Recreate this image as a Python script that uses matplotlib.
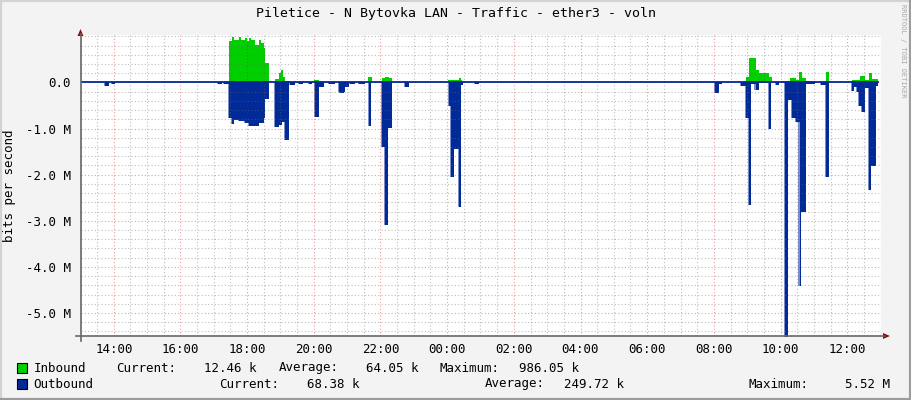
import matplotlib
matplotlib.use("Agg")
import numpy as np
import matplotlib.pyplot as plt
from matplotlib.lines import Line2D
from matplotlib.patches import Rectangle, Polygon
from matplotlib.ticker import MultipleLocator

# data (time in hours since 00:00 of the first day, values in Mbit/s, step-wise)
in_t = [13.00, 17.45, 17.55, 17.60, 17.75, 17.83, 17.93, 18.00, 18.05, 18.13,
        18.25, 18.35, 18.42, 18.50, 18.55, 18.65, 18.83, 18.95, 19.03, 19.08,
        19.15, 19.25, 20.02, 20.15, 21.63, 21.75, 22.05, 22.15, 22.25, 22.35,
        24.04, 24.35, 24.42, 24.45, 32.95, 33.05, 33.25, 33.35, 33.45, 33.65,
        33.75, 34.00, 34.30, 34.45, 34.55, 34.65, 34.75, 35.05, 35.35, 35.45,
        36.13, 36.40, 36.55, 36.65, 36.75, 36.93]
in_v = [0.0, 0.90, 0.99, 0.93, 0.99, 0.93, 0.97, 0.91, 0.97, 0.92,
        0.81, 0.93, 0.86, 0.75, 0.43, 0.0, 0.065, 0.20, 0.28, 0.12,
        0.03, 0.0, 0.05, 0.0, 0.12, 0.0, 0.09, 0.12, 0.09, 0.0,
        0.05, 0.09, 0.05, 0.0, 0.12, 0.53, 0.27, 0.20, 0.21, 0.12,
        0.0, 0.03, 0.10, 0.05, 0.22, 0.10, 0.03, 0.0, 0.22, 0.0,
        0.05, 0.13, 0.05, 0.21, 0.07, 0.0]

out_t = [13.00, 13.72, 13.86, 13.95, 14.03, 17.14, 17.26, 17.32, 17.45, 17.55,
         17.60, 17.75, 17.93, 18.05, 18.35, 18.50, 18.55, 18.65, 18.83, 18.95,
         19.05, 19.15, 19.25, 19.30, 19.45, 19.55, 19.67, 19.85, 19.95, 20.05,
         20.15, 20.30, 20.45, 20.65, 20.75, 20.80, 20.90, 20.95, 21.05, 21.10,
         21.25, 21.35, 21.55, 21.65, 21.73, 22.05, 22.15, 22.23, 22.35, 22.73,
         22.85, 24.05, 24.12, 24.20, 24.35, 24.42, 24.48, 24.85, 24.95, 32.05,
         32.15, 32.25, 32.83, 32.95, 33.05, 33.12, 33.25, 33.35, 33.65, 33.72,
         33.85, 33.97, 34.15, 34.23, 34.35, 34.45, 34.57, 34.62, 34.75, 35.05,
         35.20, 35.35, 35.45, 36.13, 36.20, 36.28, 36.37, 36.45, 36.55, 36.65,
         36.72, 36.85, 36.93]
out_v = [0.0, 0.08, 0.0, 0.04, 0.0, 0.03, 0.0, 0.03, 0.78, 0.90,
         0.81, 0.83, 0.88, 0.94, 0.88, 0.78, 0.35, 0.0, 0.96, 0.93,
         0.86, 1.24, 0.0, 0.05, 0.0, 0.03, 0.0, 0.03, 0.0, 0.75,
         0.10, 0.0, 0.03, 0.0, 0.20, 0.23, 0.20, 0.10, 0.0, 0.03,
         0.0, 0.03, 0.0, 0.94, 0.0, 1.40, 3.09, 0.98, 0.0, 0.10,
         0.0, 0.51, 2.05, 1.45, 2.70, 0.05, 0.0, 0.03, 0.0, 0.22,
         0.03, 0.0, 0.07, 0.76, 2.65, 0.03, 0.17, 0.02, 1.00, 0.0,
         0.05, 0.0, 5.52, 0.37, 0.78, 0.85, 4.41, 2.81, 0.03, 0.0,
         0.06, 2.05, 0.0, 0.19, 0.09, 0.20, 0.51, 0.64, 0.13, 2.34,
         1.81, 0.08, 0.0]

x_ticks = list(range(14, 37, 2))
x_labels = ["14:00", "16:00", "18:00", "20:00", "22:00", "00:00",
            "02:00", "04:00", "06:00", "08:00", "10:00", "12:00"]
y_ticks = [0, -1, -2, -3, -4, -5]
y_labels = ["0.0", "-1.0 M", "-2.0 M", "-3.0 M", "-4.0 M", "-5.0 M"]

legend_rows = [
    ("#00CF00", "Inbound", [(116, "Current:"), (204.5, "12.46 k"), (279, "Average:"),
                            (366, "64.05 k"), (440, "Maximum:"), (519, "986.05 k")]),
    ("#002A97", "Outbound", [(219.6, "Current:"), (306.8, "68.38 k"), (484.6, "Average:"),
                             (563.6, "249.72 k"), (748.4, "Maximum:"), (845.4, "5.52 M")]),
]

W, H = 911, 400
mono = "DejaVu Sans Mono"
green = "#00CF00"
blue = "#002A97"

def fx(x):
    return x / W

def fy(y):
    return 1 - y / H

fig = plt.figure(figsize=(W / 100, H / 100), dpi=100, facecolor="#F3F3F3")
ax = fig.add_axes([fx(80.5), fy(336), 800 / W, 301 / H])
ax.set_facecolor("white")

t_in = np.array(in_t)
v_in = np.array(in_v)
t_out = np.array(out_t)
v_out = -np.array(out_v)

# soft edge like the rrdtool rendering
ax.fill_between(t_out - 0.03, 0, v_out, step="post", color="#7D8FCB", lw=0, zorder=1)
ax.fill_between(t_in, 0, v_in, step="post", color=green, lw=0, zorder=1.2)
ax.fill_between(t_out, 0, v_out, step="post", color=blue, lw=0, zorder=1.2)
ax.plot([t_out[0], t_out[-1]], [0, 0], color=blue, lw=1.3, zorder=3)

ax.set_xlim(13.0, 37.0)
ax.set_ylim(-5.50, 1.03)
ax.set_xticks(x_ticks)
ax.set_xticklabels(x_labels, fontfamily=mono, fontsize=9)
ax.set_yticks(y_ticks)
ax.set_yticklabels(y_labels, fontfamily=mono, fontsize=9)
ax.xaxis.set_minor_locator(MultipleLocator(0.5))
ax.yaxis.set_minor_locator(MultipleLocator(0.2))
ax.tick_params(which="both", length=0)
ax.tick_params(axis="x", pad=5)
ax.tick_params(axis="y", pad=7)
ax.set_axisbelow(False)
ax.grid(which="minor", color="#6E6E6E", alpha=0.45, ls=(0, (1, 2)), lw=0.8)
ax.grid(which="major", color="#E00000", alpha=0.4, ls=(0, (1, 2)), lw=0.8)
for s in ax.spines.values():
    s.set_visible(False)

# axis lines with arrows
axis_col = "#666666"
arrow_col = "#8B1010"
fig.add_artist(Line2D([fx(80.5), fx(80.5)], [fy(341), fy(34)], color=axis_col, lw=1.2))
fig.add_artist(Line2D([fx(76), fx(884)], [fy(336), fy(336)], color=axis_col, lw=1.2))
fig.add_artist(Polygon([[fx(77.5), fy(36)], [fx(83.5), fy(36)], [fx(80.5), fy(29)]],
                       closed=True, transform=fig.transFigure, color=arrow_col, lw=0))
fig.add_artist(Polygon([[fx(883), fy(333)], [fx(883), fy(339)], [fx(890), fy(336)]],
                       closed=True, transform=fig.transFigure, color=arrow_col, lw=0))

# title, labels, watermark
fig.text(fx(455.5), fy(14), "Piletice - N Bytovka LAN - Traffic - ether3 - voln",
         ha="center", va="center", fontfamily=mono, fontsize=9.5)
fig.text(fx(10), fy(186), "bits per second", rotation=90, ha="center", va="center",
         fontfamily=mono, fontsize=9)
fig.text(fx(903), fy(51), "RRDTOOL / TOBI OETIKER", rotation=270, ha="center",
         va="center", fontfamily=mono, fontsize=5, color="#A8A8A8")

# legend
for i, (col, name, items) in enumerate(legend_rows):
    yy = 368 + 16 * i
    fig.add_artist(Rectangle((fx(17), fy(yy + 5)), 10 / W, 10 / H, transform=fig.transFigure,
                             facecolor=col, edgecolor="#000000", lw=0.8))
    fig.text(fx(33.7), fy(yy), name, ha="left", va="center", fontfamily=mono, fontsize=9)
    for xx, s in items:
        fig.text(fx(xx), fy(yy), s, ha="left", va="center", fontfamily=mono, fontsize=9)

# 3d frame around the image
fig.add_artist(Line2D([0, 0, 1], [0, 1, 1], transform=fig.transFigure, color="#D2D2D2", lw=3))
fig.add_artist(Line2D([0, 1, 1], [0, 0, 1], transform=fig.transFigure, color="#9C9C9C", lw=3))

fig.savefig("out.png", dpi=100, facecolor=fig.get_facecolor())
